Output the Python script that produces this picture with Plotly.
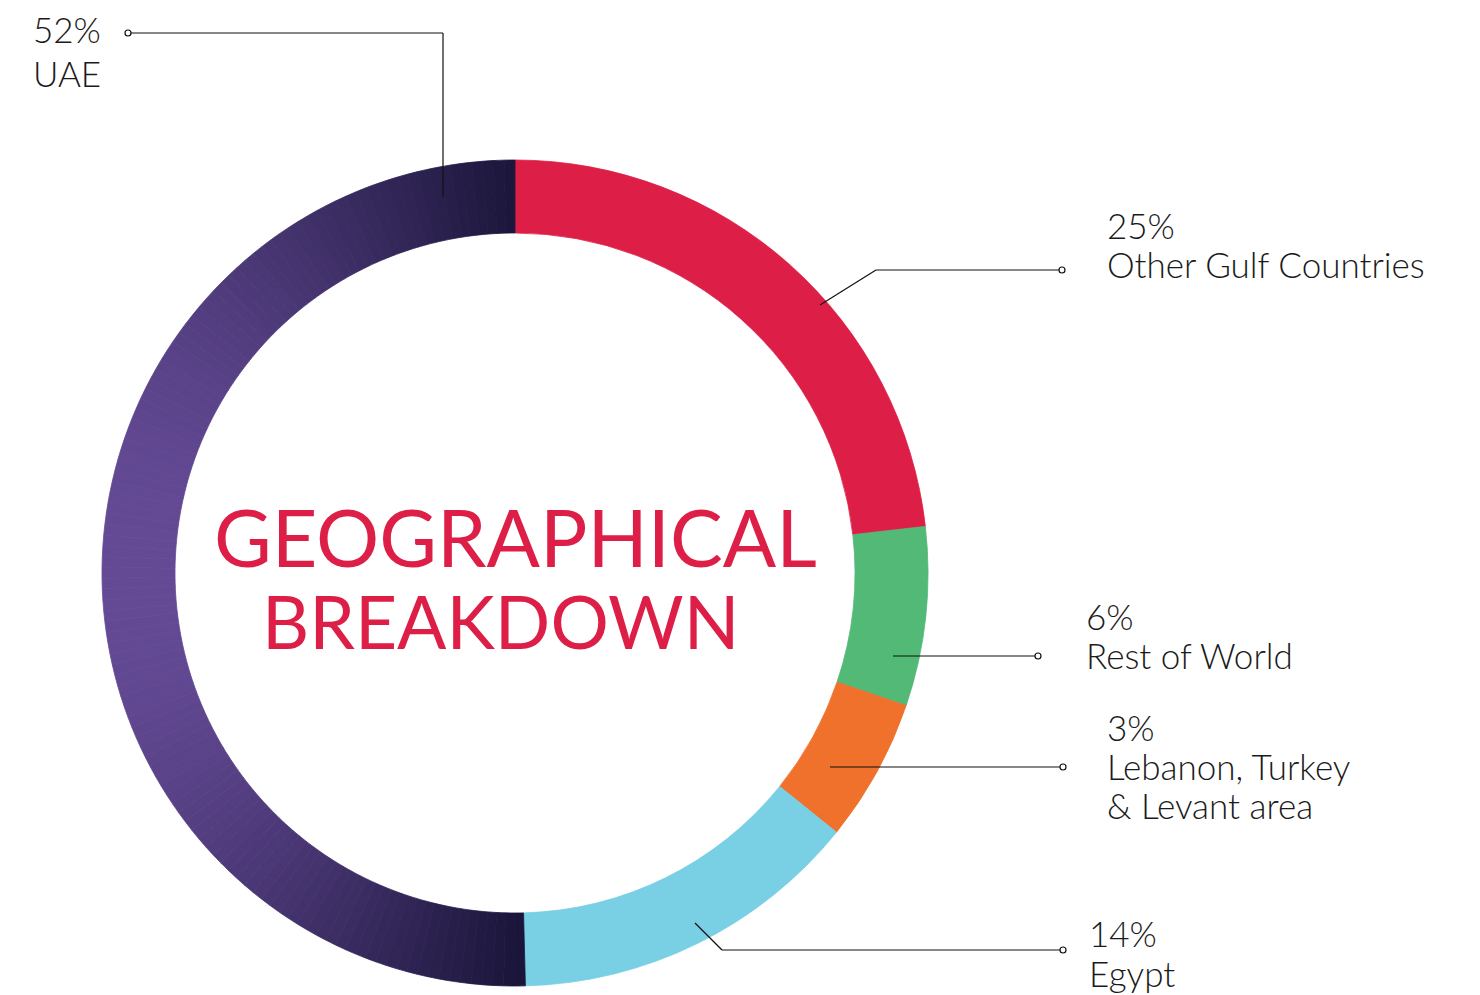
import math
import plotly.graph_objects as go

# ---- data ----
regions = ["Other Gulf Countries", "Rest of World", "Lebanon, Turkey & Levant area", "Egypt", "UAE"]
label_pcts = ["25%", "6%", "3%", "14%", "52%"]
# share of the ring each slice occupies as drawn (clockwise from 12 o'clock)
arc_shares = [23.2, 7.0, 5.6, 13.8, 50.4]
label_lines = [
    ["25%", "Other Gulf Countries"],
    ["6%", "Rest of World"],
    ["3%", "Lebanon, Turkey", "& Levant area"],
    ["14%", "Egypt"],
    ["52%", "UAE"],
]
title_lines = ["GEOGRAPHICAL", "BREAKDOWN"]

# ---- style ----
OFF = 8  # page body margin
W, H = 1480 - OFF, 995 - OFF
CX, CY, R = 515, 573, 413
HOLE = 340 / 413
slice_colors = ["#dd1e46", "#52b977", "#f0712c", "#79cfe4"]
GRAD_LEFT = (0x6b, 0x4f, 0x9e)
GRAD_RIGHT = (0x19, 0x14, 0x38)
N_GRAD = 120
FONT = "Lato"
TXT = "#1a1a1a"
RED = "#dd1e46"


def px(x):
    return (x - OFF) / W


def py(y):
    return 1 - (y - OFF) / H


# Build the slices; the UAE slice is rendered as many thin pieces to imitate
# the horizontal colour gradient of the original.
values, colors, names = [], [], []
for i in range(4):
    values.append(arc_shares[i])
    colors.append(slice_colors[i])
    names.append(regions[i])

total = sum(arc_shares)
start_deg = sum(arc_shares[:4]) / total * 360
span_deg = arc_shares[4] / total * 360
piece = arc_shares[4] / N_GRAD
rmid = R * (1 + HOLE) / 2
for k in range(N_GRAD):
    theta = math.radians(start_deg + span_deg * (k + 0.5) / N_GRAD)
    x = CX + rmid * math.sin(theta)
    t = (x - (CX - R)) / (R + 10)
    t = min(max(t, 0), 1)
    c = tuple(round(GRAD_LEFT[j] + (GRAD_RIGHT[j] - GRAD_LEFT[j]) * t) for j in range(3))
    values.append(piece)
    colors.append("rgb(%d,%d,%d)" % c)
    names.append("%s %d" % (regions[4], k))

fig = go.Figure(
    go.Pie(
        labels=names,
        values=values,
        sort=False,
        direction="clockwise",
        rotation=0,
        hole=HOLE,
        textinfo="none",
        hoverinfo="skip",
        showlegend=False,
        marker=dict(colors=colors, line=dict(color=colors, width=0.8)),
        domain=dict(x=[px(CX - R), px(CX + R)], y=[py(CY + R), py(CY - R)]),
    )
)

shapes = []


def seg(x0, y0, x1, y1):
    shapes.append(dict(type="line", xref="paper", yref="paper",
                       x0=px(x0), y0=py(y0), x1=px(x1), y1=py(y1),
                       line=dict(color="#111111", width=1.2)))


def dot(x, y, r=3):
    shapes.append(dict(type="circle", xref="paper", yref="paper",
                       x0=px(x - r), y0=py(y - r), x1=px(x + r), y1=py(y + r),
                       fillcolor="white", line=dict(color="#111111", width=1.2)))


# leader lines
seg(131, 33, 443, 33); seg(443, 33, 443, 197); dot(128, 33)
seg(820, 305, 876, 270); seg(876, 270, 1059, 270); dot(1062, 270)
seg(893, 656, 1035, 656); dot(1038, 656)
seg(830, 767, 1060, 767); dot(1063, 767)
seg(695, 923, 722, 950); seg(722, 950, 1060, 950); dot(1063, 950)

annotations = []


def text(x, y, s, size=35, color=TXT, xanchor="left", weight=300):
    annotations.append(dict(x=px(x), y=py(y), xref="paper", yref="paper",
                            text=s, showarrow=False, xanchor=xanchor, yanchor="middle",
                            font=dict(family=FONT, size=size, color=color, weight=weight)))


label_pos = [(1105, 225), (1084, 616), (1105, 727), (1087, 933), (31, 29)]
LINE_GAP = 39
for (x, y), lines in zip(label_pos, label_lines):
    for j, s in enumerate(lines):
        dy = j * LINE_GAP
        if lines[0] == "14%" and j == 1:
            dy = 40
        if lines[0] == "52%" and j == 1:
            dy = 44
        text(x, y + dy, s)

text(CX, 536, title_lines[0], size=79, color=RED, xanchor="center", weight=400)
text(CX - 15, 621, title_lines[1], size=73, color=RED, xanchor="center", weight=400)

fig.update_layout(
    width=W, height=H,
    margin=dict(l=0, r=0, t=0, b=0),
    paper_bgcolor="white", plot_bgcolor="white",
    shapes=shapes, annotations=annotations,
)

fig.write_html("out.html")
